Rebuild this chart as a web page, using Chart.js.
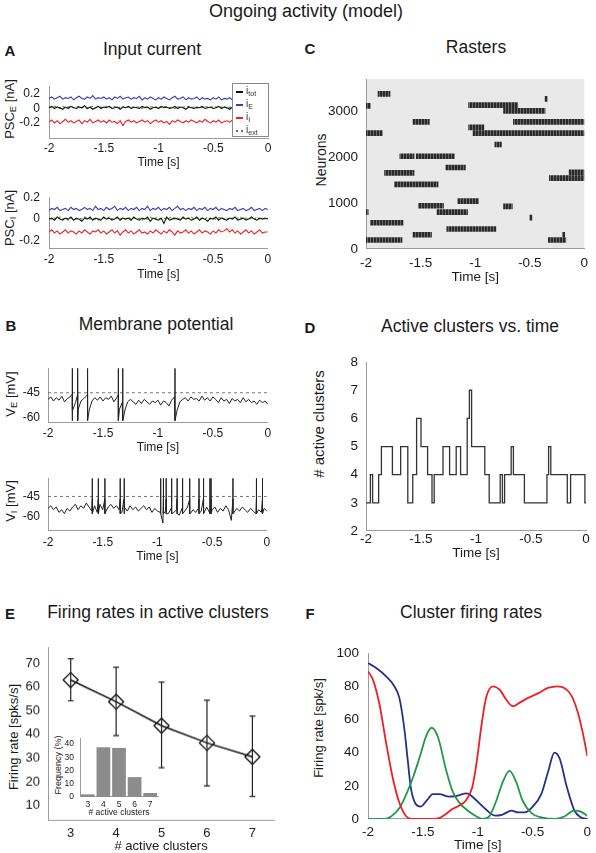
<!DOCTYPE html>
<html>
<head>
<meta charset="utf-8">
<title>Ongoing activity (model)</title>
<script src="https://cdn.jsdelivr.net/npm/chart.js@4.4.1/dist/chart.umd.min.js"></script>
<style>
  body { margin: 0; width: 596px; height: 853px; position: relative; overflow: hidden; background: #fff;
         font-family: 'Liberation Sans', Arial, Helvetica, sans-serif; color: #1a1a1a; }
  .box { position: absolute; }
  .txt { position: absolute; white-space: nowrap; transform: translate(-50%, -50%); line-height: 1; }
  .letter { font-weight: bold; font-size: 15px; }
  .title { font-size: 17.5px; }
  .ylab { transform: translate(-50%, -50%) rotate(-90deg); font-size: 13px; }
  sub { font-size: 72%; vertical-align: -0.3em; line-height: 0; }
  #legendA { left: 232px; top: 83px; width: 37px; height: 54px; border: 1px solid #8a8a8a; background: #fff;
             z-index: 2; font-size: 10px; box-sizing: border-box; padding-top: 1px; color: #333; }
  .row { height: 13px; line-height: 12px; position: relative; padding-left: 13px; }
  .key { position: absolute; left: 3px; top: 6px; width: 7px; height: 0; }
</style>
</head>
<body>

<div class="txt" style="left:306px;top:11px;font-size:18px">Ongoing activity (model)</div>

<div class="txt letter" style="left:10px;top:50px">A</div>
<div class="txt title" style="left:152px;top:50px">Input current</div>
<div class="txt letter" style="left:11px;top:325px">B</div>
<div class="txt title" style="left:156px;top:325px">Membrane potential</div>
<div class="txt letter" style="left:310px;top:48px">C</div>
<div class="txt title" style="left:476px;top:48px">Rasters</div>
<div class="txt letter" style="left:310px;top:327px">D</div>
<div class="txt title" style="left:470px;top:327px">Active clusters vs. time</div>
<div class="txt letter" style="left:10px;top:613px">E</div>
<div class="txt title" style="left:158px;top:613px">Firing rates in active clusters</div>
<div class="txt letter" style="left:310px;top:613px">F</div>
<div class="txt title" style="left:471px;top:613px">Cluster firing rates</div>

<div class="txt ylab" style="left:9px;top:109px">PSC<sub>E</sub> [nA]</div>
<div class="txt ylab" style="left:9px;top:218px">PSC<sub>I</sub> [nA]</div>
<div class="txt ylab" style="left:10px;top:394px">V<sub>E</sub> [mV]</div>
<div class="txt ylab" style="left:10px;top:501px">V<sub>I</sub> [mV]</div>
<div class="txt ylab" style="left:321px;top:160px;font-size:14px">Neurons</div>
<div class="txt ylab" style="left:318px;top:424px;font-size:15px"># active clusters</div>
<div class="txt ylab" style="left:13px;top:737px">Firing rate [spks/s]</div>
<div class="txt ylab" style="left:318px;top:728px">Firing rate [spk/s]</div>
<div class="txt ylab" style="left:58px;top:765px;font-size:9px">Frequency (%)</div>

<div id="legendA" class="box">
  <div class="row"><span class="key" style="border-top:2px solid #111"></span>i<sub>tot</sub></div>
  <div class="row"><span class="key" style="border-top:2px solid #3a3db3"></span>i<sub>E</sub></div>
  <div class="row"><span class="key" style="border-top:2px solid #ec2024"></span>i<sub>I</sub></div>
  <div class="row"><span class="key" style="border-top:2px dotted #2a9a3e"></span>i<sub>ext</sub></div>
</div>

<script>
// ---- shared time axis ----
const timeTicks = [-2, -1.5, -1, -0.5, 0];
const timeLabels = ['-2', '-1.5', '-1', '-0.5', '0'];
const sampleStep = 0.025; // A and B traces: one sample every 25 ms from -2 s

// ---- A: input currents (nA) ----
const pscTicks = [-0.2, 0, 0.2];
const pscLabels = ['-0.2', '0', '0.2'];

const pscE_exc = [
  0.14,0.16,0.13,0.15,0.17,0.13,0.15,0.14,0.16,0.12,
  0.15,0.17,0.14,0.13,0.16,0.14,0.18,0.13,0.15,0.14,
  0.16,0.13,0.15,0.12,0.16,0.14,0.17,0.13,0.15,0.16,
  0.13,0.15,0.14,0.17,0.12,0.15,0.13,0.16,0.14,0.12,
  0.15,0.13,0.16,0.14,0.12,0.15,0.17,0.13,0.14,0.16,
  0.12,0.15,0.13,0.14,0.16,0.12,0.15,0.13,0.14,0.12,
  0.15,0.13,0.16,0.12,0.14,0.13,0.15,0.12,0.14,0.13,
  0.15,0.12,0.14,0.13,0.16,0.12,0.14,0.13,0.15,0.12,
  0.14];
const pscE_tot = [
  0.01,0.03,0.00,0.02,0.01,-0.01,0.02,0.00,0.03,0.01,
  0.00,0.02,0.01,0.04,0.00,0.02,-0.01,0.01,0.03,0.00,
  0.02,0.01,0.03,0.00,0.01,0.02,-0.01,0.02,0.01,0.03,
  0.00,0.02,0.01,0.00,0.03,0.01,0.02,-0.01,0.01,0.02,
  0.00,0.03,0.01,0.02,0.00,0.01,0.03,0.00,0.02,0.01,
  -0.01,0.02,0.01,0.00,0.02,0.01,0.03,0.00,0.01,0.02,
  0.00,0.01,0.03,0.00,0.02,0.01,-0.01,0.02,0.00,0.01,
  0.02,0.00,0.01,0.03,0.00,0.02,0.01,0.00,0.02,0.01,
  0.01];
const pscE_ext = [
  0.02,0.01,0.03,0.02,0.00,0.03,0.01,0.02,0.03,0.01,
  0.02,0.03,0.01,0.02,0.00,0.02,0.03,0.01,0.02,0.02,
  0.01,0.03,0.02,0.01,0.03,0.00,0.02,0.03,0.01,0.02,
  0.03,0.01,0.02,0.02,0.00,0.03,0.01,0.02,0.03,0.01,
  0.02,0.01,0.03,0.02,0.01,0.02,0.00,0.03,0.01,0.02,
  0.02,0.03,0.01,0.02,0.00,0.02,0.01,0.03,0.02,0.01,
  0.03,0.02,0.01,0.02,0.03,0.00,0.02,0.01,0.03,0.02,
  0.01,0.02,0.03,0.01,0.02,0.00,0.02,0.03,0.01,0.02,
  0.02];
const pscE_inh = [
  -0.19,-0.16,-0.20,-0.17,-0.21,-0.18,-0.15,-0.19,-0.17,-0.20,
  -0.18,-0.16,-0.21,-0.17,-0.19,-0.15,-0.20,-0.18,-0.16,-0.19,
  -0.17,-0.20,-0.16,-0.19,-0.18,-0.21,-0.17,-0.24,-0.18,-0.16,
  -0.19,-0.17,-0.20,-0.18,-0.16,-0.19,-0.17,-0.21,-0.18,-0.16,
  -0.19,-0.17,-0.20,-0.18,-0.22,-0.17,-0.19,-0.16,-0.18,-0.20,
  -0.17,-0.19,-0.16,-0.18,-0.20,-0.17,-0.19,-0.15,-0.18,-0.20,
  -0.17,-0.19,-0.16,-0.20,-0.18,-0.17,-0.19,-0.16,-0.18,-0.20,
  -0.17,-0.15,-0.19,-0.17,-0.20,-0.16,-0.18,-0.15,-0.17,-0.19,
  -0.18];

const pscI_exc = [
  0.08,0.10,0.09,0.11,0.08,0.09,0.10,0.08,0.11,0.09,
  0.10,0.08,0.09,0.11,0.09,0.10,0.08,0.12,0.09,0.10,
  0.08,0.11,0.09,0.10,0.12,0.08,0.10,0.09,0.11,0.08,
  0.10,0.09,0.11,0.08,0.10,0.09,0.12,0.08,0.10,0.09,
  0.11,0.08,0.10,0.09,0.11,0.08,0.10,0.12,0.09,0.10,
  0.08,0.10,0.09,0.11,0.08,0.10,0.09,0.11,0.08,0.10,
  0.09,0.11,0.08,0.10,0.09,0.08,0.10,0.09,0.11,0.08,
  0.09,0.10,0.08,0.09,0.11,0.08,0.09,0.10,0.08,0.10,
  0.09];
const pscI_tot = [
  0.00,0.01,-0.01,0.02,0.00,-0.01,0.01,0.00,0.02,-0.01,
  0.01,0.00,-0.02,0.01,0.00,0.02,-0.01,0.01,0.00,-0.01,
  0.02,0.00,0.01,-0.01,0.00,0.02,-0.01,0.01,0.00,0.01,
  -0.01,0.02,0.00,-0.01,0.01,0.00,0.02,-0.02,0.01,0.00,
  -0.01,0.01,-0.04,0.02,-0.01,0.00,0.01,0.00,-0.01,0.02,
  0.00,0.01,-0.01,0.00,0.02,-0.01,0.01,0.00,-0.02,0.01,
  0.00,0.02,-0.01,0.01,0.00,-0.01,0.01,0.00,0.02,-0.01,
  0.00,0.01,-0.01,0.00,0.02,0.00,-0.01,0.01,0.00,0.01,
  0.00];
const pscI_ext = [
  0.01,0.00,0.01,0.00,0.02,0.00,0.01,-0.01,0.01,0.00,
  0.00,0.01,0.00,0.02,0.01,0.00,0.01,0.00,-0.01,0.01,
  0.01,0.00,0.02,0.00,0.01,0.01,0.00,0.01,0.00,0.02,
  0.00,0.01,0.00,0.01,-0.01,0.01,0.00,0.02,0.00,0.01,
  0.01,0.00,0.01,0.00,0.01,0.02,0.00,0.01,0.00,0.01,
  0.00,0.01,0.02,0.00,0.01,0.00,0.01,0.00,0.02,0.00,
  0.01,0.00,0.01,0.02,0.00,0.01,0.00,0.01,0.00,0.01,
  0.02,0.00,0.01,0.00,0.01,0.00,0.02,0.00,0.01,0.00,
  0.01];
const pscI_inh = [
  -0.12,-0.10,-0.13,-0.11,-0.14,-0.12,-0.10,-0.13,-0.11,-0.12,
  -0.14,-0.11,-0.13,-0.10,-0.12,-0.14,-0.11,-0.12,-0.10,-0.13,
  -0.11,-0.14,-0.12,-0.10,-0.13,-0.11,-0.15,-0.12,-0.10,-0.13,
  -0.11,-0.14,-0.12,-0.10,-0.13,-0.12,-0.14,-0.11,-0.13,-0.10,
  -0.12,-0.14,-0.11,-0.13,-0.10,-0.12,-0.15,-0.11,-0.13,-0.12,
  -0.10,-0.13,-0.11,-0.14,-0.12,-0.10,-0.13,-0.11,-0.12,-0.14,
  -0.11,-0.13,-0.10,-0.12,-0.11,-0.09,-0.12,-0.10,-0.13,-0.11,
  -0.14,-0.12,-0.10,-0.13,-0.11,-0.14,-0.12,-0.10,-0.13,-0.12,
  -0.12];

// ---- B: membrane potentials (mV) ----
const vmTicks = [-60, -45];
const vmLabels = ['-60', '-45'];
const vThreshold = -45;

const vmE = [
  -49,-47.5,-50,-48,-49.5,-47,-50.5,-48.5,-47.5,-56,
  -51,-55,-50,-48.5,-47,-55.5,-50,-48,-49.5,-47.5,
  -50,-48,-49,-47,-50.5,-48,-55,-51,-55.5,-50.5,
  -49,-50.5,-52,-49.5,-51.5,-49,-50.5,-52,-50,-51,
  -49.5,-52.5,-50,-51,-53,-49.5,-47.5,-55.5,-50.5,-49,
  -48,-50,-47.5,-49,-48.5,-50,-47,-49.5,-48,-50,
  -47.5,-49,-51,-48,-50,-49,-51.5,-48.5,-50,-49,
  -51,-48,-50.5,-49,-51,-50,-52,-49.5,-51,-50,
  -52];
const spikeTimesE = [-1.78, -1.73, -1.64, -1.36, -1.32, -0.845];
const spikeE = { from: -46, peak: -30, reset: -62 };

const vmI = [
  -54,-52,-55,-53,-57,-55,-58,-54,-56,-53,
  -51,-55,-52,-54,-50,-53,-56,-52,-57,-51,
  -55,-57,-53,-51,-54,-52,-55,-57,-53,-56,
  -52,-55,-53,-56,-54,-52,-55,-53,-57,-54,
  -56,-57,-65,-56,-58,-54,-57,-55,-59,-54,
  -56,-53,-58,-55,-57,-54,-56,-58,-53,-57,
  -55,-53,-57,-54,-56,-52,-55,-63,-57,-54,
  -56,-53,-55,-57,-54,-56,-58,-55,-57,-54,
  -56];
const spikeTimesI = [-1.595, -1.54, -1.48, -1.34, -1.305, -0.97, -0.945, -0.92, -0.87, -0.82,
                     -0.77, -0.705, -0.62, -0.58, -0.52, -0.51, -0.31, -0.095, -0.04];
const spikeI = { from: -47, peak: -31.4, reset: -58 };

// ---- C: raster, active cluster episodes ----
const neuronTicks = [0, 1000, 2000, 3000];
const neuronLabels = ['0', '1000', '2000', '3000'];
const clusterStart = [-1.89, -2.00, -0.36, -1.06, -0.74, -1.57, -0.65, -1.06, -1.02, -2.00,
                      -0.82, -1.69, -1.54, -1.27, -1.83, -0.32, -0.14, -1.74, -1.16, -1.52,
                      -0.74, -1.35, -2.00, -0.50, -1.96, -1.26, -1.57, -0.20, -2.00, -0.33];
const clusterEnd   = [-1.78, -1.96, -0.34, -0.61, -0.36, -1.42, 0.00, -0.92, 0.00, -1.85,
                      -0.76, -1.56, -1.19, -1.09, -1.56, 0.00, 0.00, -1.34, -0.97, -1.29,
                      -0.66, -1.07, -1.98, -0.48, -1.66, -0.81, -1.40, -0.18, -1.67, -0.17];
const clusterNeuron = [3370, 3110, 3260, 3125, 3000, 2760, 2760, 2640, 2515, 2515,
                       2270, 2015, 2015, 1770, 1655, 1540, 1665, 1405, 1040, 940,
                       925, 800, 800, 680, 570, 435, 310, 310, 195, 195];

// ---- D: number of active clusters (value holds until next change) ----
const stepTimes = [-2, -1.96, -1.94, -1.885, -1.86, -1.76, -1.685, -1.62, -1.575, -1.54,
                   -1.50, -1.44, -1.40, -1.38, -1.30, -1.24, -1.18, -1.14, -1.08, -1.06,
                   -1.04, -0.92, -0.88, -0.78, -0.76, -0.74, -0.68, -0.66, -0.56, -0.355,
                   -0.34, -0.32, -0.17, -0.14, -0.01, 0];
const activeCount = [3, 4, 3, 4, 5, 4, 5, 3, 4, 6,
                     5, 4, 3, 4, 5, 4, 5, 4, 6, 7,
                     5, 4, 3, 4, 3, 4, 5, 4, 3, 4,
                     5, 4, 3, 4, 3, 3];
const countTicks = [2, 3, 4, 5, 6, 7, 8];
const countLabels = ['2', '3', '4', '5', '6', '7', '8'];

// ---- E: rate vs number of active clusters ----
const nActive = [3, 4, 5, 6, 7];
const nActiveLabels = ['3', '4', '5', '6', '7'];
const rateMean = [63, 53.8, 43.7, 36.4, 30.5];
const rateLow  = [54.2, 39.5, 25.9, 18.2, 13.8];
const rateHigh = [72, 68.4, 62.1, 54.5, 47.8];
const rateTicks = [10, 20, 30, 40, 50, 60, 70];
const rateLabels = ['10', '20', '30', '40', '50', '60', '70'];
const freqPct = [2, 37.5, 37, 15, 3];
const freqTicks = [0, 10, 20, 30, 40];
const freqLabels = ['0', '10', '20', '30', '40'];

// ---- F: cluster firing rates (spk/s) ----
const blueT = [-2, -1.925, -1.835, -1.76, -1.714, -1.67, -1.64, -1.61, -1.565, -1.52,
               -1.46, -1.41, -1.35, -1.26, -1.19, -1.1, -1.04, -0.95, -0.84, -0.78,
               -0.69, -0.63, -0.57, -0.5, -0.42, -0.36, -0.3, -0.25, -0.19, -0.12,
               -0.06, 0];
const blueRate = [94, 91, 86, 80, 73, 55, 37, 19, 9, 7.5,
                  11.5, 15, 15, 13.5, 14, 15.5, 13, 7.3, 2, 2.5,
                  5, 4, 4, 7.3, 15, 28, 40, 36, 20, 5.4,
                  1, 0];
const redT = [-2, -1.955, -1.895, -1.835, -1.775, -1.71, -1.65, -1.59, -1.41, -1.35,
              -1.29, -1.23, -1.17, -1.11, -1.05, -1.01, -0.96, -0.92, -0.86, -0.8,
              -0.74, -0.68, -0.62, -0.54, -0.44, -0.36, -0.27, -0.21, -0.15, -0.09,
              -0.045, 0];
const redRate = [89, 84, 69, 46, 25, 9, 1.5, 0, 0, 0.5,
                 3, 6, 8, 11, 19, 34, 59, 74, 80, 78,
                 72, 68, 70, 73, 76, 79, 80, 79, 75, 65,
                 53, 38];
const greenT = [-2, -1.85, -1.79, -1.71, -1.65, -1.59, -1.53, -1.47, -1.42, -1.36,
                -1.29, -1.23, -1.17, -1.08, -1.01, -0.95, -0.89, -0.83, -0.77, -0.71,
                -0.65, -0.59, -0.51, -0.42, -0.3, -0.21, -0.12, -0.06, 0];
const greenRate = [0, 0, 1.5, 7, 15, 25, 37, 50, 55, 49,
                   30, 17, 10, 4.5, 1.5, 0, 2, 11, 22.5, 29,
                   22.5, 11, 3.5, 1, 0, 1.5, 5, 4.5, 2];
const fRateTicks = [0, 20, 40, 60, 80, 100];
const fRateLabels = ['0', '20', '40', '60', '80', '100'];

// ---- helpers ----
Chart.defaults.font.family = "'Liberation Sans', Arial, Helvetica, sans-serif";
Chart.defaults.color = '#1a1a1a';

const BLACK = '#111', BLUE = '#3a3db3', RED = '#ec2024', GREEN = '#2a9a3e';
const AXIS = '#9c9c9c';

function axis(min, max, ticks, labels, size, pad, title) {
  return {
    type: 'linear', min, max, offset: false,
    afterBuildTicks: s => { s.ticks = ticks.map(v => ({ value: v })); },
    ticks: { autoSkip: false, maxRotation: 0, minRotation: 0, padding: pad, font: { size },
             callback: v => labels[ticks.indexOf(v)] },
    grid: { display: false, drawTicks: false },
    border: { color: AXIS, width: 1 },
    title: title ? { display: true, text: title, font: { size }, padding: { top: 0, bottom: 0 } } : { display: false }
  };
}

// plot area in page pixels; yW = room left of it, xH = room below it
function makeChart(area, yW, xH, config, padRight = 8) {
  const padTop = 10;
  const div = document.createElement('div');
  div.className = 'box';
  div.style.left = (area.l - yW) + 'px';
  div.style.top = (area.t - padTop) + 'px';
  div.style.width = (yW + area.r - area.l + padRight) + 'px';
  div.style.height = (padTop + area.b - area.t + xH) + 'px';
  const cv = document.createElement('canvas');
  div.appendChild(cv);
  document.body.appendChild(div);
  const o = config.options;
  o.responsive = true;
  o.maintainAspectRatio = false;
  o.animation = false;
  o.layout = { padding: { top: padTop, right: padRight, left: 0, bottom: 0 } };
  o.plugins = Object.assign({ legend: { display: false }, tooltip: { enabled: false } }, o.plugins);
  o.scales.x.afterFit = s => { s.height = xH; };
  o.scales.y.afterFit = s => { s.width = yW; };
  return new Chart(cv, config);
}

const trace = arr => arr.map((v, i) => ({ x: -2 + i * sampleStep, y: v }));
function withSpikes(arr, times, shape) {
  const pts = trace(arr);
  times.forEach(t => pts.push({ x: t, y: shape.from }, { x: t, y: shape.peak }, { x: t, y: shape.reset }));
  return pts.sort((a, b) => a.x - b.x);
}
const line = (data, color, width, extra) =>
  Object.assign({ data, borderColor: color, borderWidth: width, pointRadius: 0, tension: 0, fill: false }, extra || {});
const xy = (xs, ys) => xs.map((x, i) => ({ x, y: ys[i] }));

// ---- A ----
makeChart({ l: 49, r: 268, t: 80, b: 138 }, 42, 32.2, {
  type: 'line',
  data: { datasets: [
    line(trace(pscE_tot), BLACK, 1.1),
    line(trace(pscE_ext), GREEN, 1.1, { borderDash: [3, 2] }),
    line(trace(pscE_inh), RED, 1.1),
    line(trace(pscE_exc), BLUE, 1.1)
  ] },
  options: { scales: {
    x: axis(-2, 0, timeTicks, timeLabels, 12, 3.8, 'Time [s]'),
    y: axis(-0.41, 0.31, pscTicks, pscLabels, 12, 9)
  } }
});
makeChart({ l: 49, r: 268, t: 191, b: 248 }, 42, 34.2, {
  type: 'line',
  data: { datasets: [
    line(trace(pscI_tot), BLACK, 1.1),
    line(trace(pscI_ext), GREEN, 1.1, { borderDash: [3, 2] }),
    line(trace(pscI_inh), RED, 1.1),
    line(trace(pscI_exc), BLUE, 1.1)
  ] },
  options: { scales: {
    x: axis(-2, 0, timeTicks, timeLabels, 12, 4.8, 'Time [s]'),
    y: axis(-0.27, 0.205, pscTicks, pscLabels, 12, 9)
  } }
});

// ---- B ----
const thresholdLine = [{ x: -2, y: vThreshold }, { x: 0, y: vThreshold }];
makeChart({ l: 48, r: 268, t: 363, b: 422 }, 42, 33.2, {
  type: 'line',
  data: { datasets: [
    line(withSpikes(vmE, spikeTimesE, spikeE), '#222', 1),
    line(thresholdLine, '#555', 0.8, { borderDash: [3, 3] })
  ] },
  options: { scales: {
    x: axis(-2, 0, timeTicks, timeLabels, 12, 4.8, 'Time [s]'),
    y: axis(-62.8, -30, vmTicks, vmLabels, 12, 8)
  } }
});
makeChart({ l: 48, r: 268, t: 473, b: 530 }, 42, 34.2, {
  type: 'line',
  data: { datasets: [
    line(withSpikes(vmI, spikeTimesI, spikeI), '#222', 1),
    line(thresholdLine, '#555', 0.8, { borderDash: [3, 3] })
  ] },
  options: { scales: {
    x: axis(-2, 0, timeTicks, timeLabels, 12, 5.8, 'Time [s]'),
    y: axis(-70.2, -31.4, vmTicks, vmLabels, 12, 8)
  } }
});

// ---- C ----
function stripes() {
  const c = document.createElement('canvas');
  c.width = 3; c.height = 4;
  const g = c.getContext('2d');
  g.fillStyle = '#6a6a6a'; g.fillRect(0, 0, 3, 4);
  g.fillStyle = '#2a2a2a'; g.fillRect(0, 0, 2, 4);
  return g.createPattern(c, 'repeat');
}
const areaFill = color => ({
  id: 'areaFill',
  beforeDraw(chart) {
    const { ctx, chartArea: a } = chart;
    ctx.save();
    ctx.fillStyle = color;
    ctx.fillRect(a.left, a.top, a.width, a.height);
    ctx.restore();
  }
});
makeChart({ l: 366, r: 586, t: 73, b: 249 }, 52, 36.1, {
  type: 'bar',
  data: { datasets: [{
    data: clusterStart.map((s, i) => ({ x: [s, clusterEnd[i]], y: clusterNeuron[i] })),
    backgroundColor: stripes(), borderWidth: 0, barThickness: 5, grouped: false
  }] },
  options: { indexAxis: 'y', scales: {
    x: axis(-2, 0, timeTicks, timeLabels, 13.5, 5.9, 'Time [s]'),
    y: axis(0, 3690, neuronTicks, neuronLabels, 13.5, 8)
  } },
  plugins: [areaFill('#e9e9e9')]
});

// ---- D ----
makeChart({ l: 366, r: 586, t: 356, b: 531 }, 52, 30.1, {
  type: 'line',
  data: { datasets: [ line(xy(stepTimes, activeCount), '#333', 1.3, { stepped: true }) ] },
  options: { scales: {
    x: axis(-2, 0, timeTicks, timeLabels, 13.5, 0.4, 'Time [s]'),
    y: axis(2, 8, countTicks, countLabels, 13.5, 8)
  } }
});

// ---- E ----
const errorBars = {
  id: 'errorBars',
  afterDatasetsDraw(chart) {
    const { ctx, scales: { x, y } } = chart;
    ctx.save();
    ctx.strokeStyle = '#222';
    ctx.lineWidth = 1.2;
    nActive.forEach((n, i) => {
      const px = x.getPixelForValue(n);
      const lo = y.getPixelForValue(rateLow[i]), hi = y.getPixelForValue(rateHigh[i]);
      ctx.beginPath();
      ctx.moveTo(px, lo); ctx.lineTo(px, hi);
      ctx.moveTo(px - 3, lo); ctx.lineTo(px + 3, lo);
      ctx.moveTo(px - 3, hi); ctx.lineTo(px + 3, hi);
      ctx.stroke();
    });
    ctx.restore();
  }
};
makeChart({ l: 48, r: 275, t: 642, b: 819 }, 42, 33.8, {
  type: 'line',
  data: { datasets: [ line(xy(nActive, rateMean), '#111', 1.5, {
    pointStyle: 'rectRot', pointRadius: 7.5, pointBorderColor: '#111',
    pointBackgroundColor: 'rgba(0,0,0,0)', pointBorderWidth: 1.3
  }) ] },
  options: { scales: {
    x: axis(2.5, 7.48, nActive, nActiveLabels, 13, 5.2, '# active clusters'),
    y: axis(3.84, 76.6, rateTicks, rateLabels, 13, 8)
  } },
  plugins: [errorBars]
});

// inset histogram
makeChart({ l: 80, r: 158, t: 737, b: 797 }, 20, 21.1, {
  type: 'bar',
  data: { labels: nActiveLabels, datasets: [{
    data: freqPct, backgroundColor: '#8c8c8c', borderWidth: 0, barPercentage: 0.88, categoryPercentage: 1
  }] },
  options: { scales: {
    x: { type: 'category', grid: { display: false, drawTicks: false }, border: { color: AXIS, width: 1 },
         ticks: { padding: 2.9, font: { size: 8.5 }, maxRotation: 0 },
         title: { display: true, text: '# active clusters', font: { size: 8.5 }, padding: { top: 0, bottom: 0 } } },
    y: axis(0, 44.4, freqTicks, freqLabels, 8.5, 6)
  } }
}, 4);

// ---- F ----
makeChart({ l: 368, r: 590, t: 646, b: 819 }, 50, 34.1, {
  type: 'line',
  data: { datasets: [
    line(xy(redT, redRate), RED, 1.8, { cubicInterpolationMode: 'monotone' }),
    line(xy(greenT, greenRate), '#1f9a48', 1.8, { cubicInterpolationMode: 'monotone' }),
    line(xy(blueT, blueRate), '#262f8c', 1.8, { cubicInterpolationMode: 'monotone' })
  ] },
  options: { scales: {
    x: axis(-2, 0, timeTicks, timeLabels, 13.5, 4.9, 'Time [s]'),
    y: axis(0, 100, fRateTicks, fRateLabels, 13.5, 9)
  } }
}, 6);
</script>
</body>
</html>
